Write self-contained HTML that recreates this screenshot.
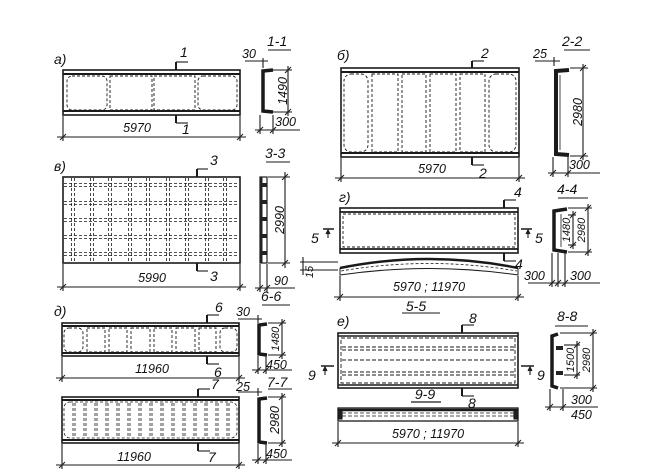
<!DOCTYPE html>
<html><head><meta charset="utf-8"><style>
html,body{margin:0;padding:0;background:#fff}
svg{display:block}
text{font-family:"Liberation Sans",sans-serif;font-style:italic;fill:#111;font-size:12.5px}
.l{font-size:14px}
.s{font-size:11px}
</style></head><body>
<svg width="657" height="475" viewBox="0 0 657 475" xmlns="http://www.w3.org/2000/svg">
<defs>
<g id="tk"><line x1="-3" y1="3" x2="3" y2="-3" stroke="#222" stroke-width="1.1"/></g>
</defs>
<g fill="none" stroke="#1a1a1a" stroke-width="1.1">

<!-- ===== a) ===== -->
<rect x="63" y="70" width="177" height="45" stroke-width="1.6"/>
<line x1="63" y1="74" x2="240" y2="74" stroke-width="2"/>
<line x1="63" y1="111" x2="240" y2="111" stroke-width="2"/>
<g stroke-dasharray="3,2" stroke-width="0.9">
<rect x="67" y="76" width="40" height="34" rx="5"/>
<rect x="110" y="76" width="42" height="34"/>
<rect x="154" y="76" width="41" height="34"/>
<rect x="198" y="76" width="39" height="34" rx="5"/>
</g>
<line x1="176" y1="62" x2="176" y2="70" stroke-width="2"/><line x1="176" y1="62" x2="188" y2="62"/>
<line x1="176" y1="115" x2="176" y2="123" stroke-width="2"/><line x1="176" y1="123" x2="188" y2="123"/>
<line x1="63" y1="116" x2="63" y2="141"/><line x1="240" y1="116" x2="240" y2="141"/>
<line x1="57" y1="137" x2="246" y2="137"/>
<use href="#tk" x="63" y="137"/><use href="#tk" x="240" y="137"/>
<!-- 1-1 -->
<line x1="268" y1="50" x2="291" y2="50"/>
<path d="M273,70 L263,71 L263,111 L273,112" stroke-width="3.5"/>
<line x1="268" y1="70" x2="292" y2="70"/><line x1="268" y1="112" x2="292" y2="112"/>
<line x1="288" y1="66" x2="288" y2="116"/>
<use href="#tk" x="288" y="70"/><use href="#tk" x="288" y="112"/>
<line x1="245" y1="61" x2="268" y2="61"/><line x1="263" y1="58" x2="263" y2="68"/>
<line x1="260" y1="115" x2="260" y2="134"/><line x1="273" y1="115" x2="273" y2="134"/>
<line x1="255" y1="130" x2="300" y2="130"/>
<use href="#tk" x="260" y="130"/><use href="#tk" x="273" y="130"/>

<!-- ===== в) ===== -->
<rect x="63" y="177" width="177" height="86" stroke-width="1.6"/>
<g stroke-dasharray="3,2" stroke-width="0.8">
<path d="M71.5,178V262M74.5,178V262M90.5,178V262M93.5,178V262M108.5,178V262M111.5,178V262M128.5,178V262M131.5,178V262M146.5,178V262M149.5,178V262M166.5,178V262M169.5,178V262M185.5,178V262M188.5,178V262M205.5,178V262M208.5,178V262M223.5,178V262M226.5,178V262"/>
<path d="M64,183.5H239M64,186.5H239M64,201.5H239M64,204.5H239M64,218.5H239M64,221.5H239M64,235.5H239M64,238.5H239M64,252.5H239M64,255.5H239"/>
</g>
<line x1="197" y1="169" x2="197" y2="177" stroke-width="2"/><line x1="197" y1="169" x2="208" y2="169"/>
<line x1="197" y1="263" x2="197" y2="271" stroke-width="2"/><line x1="197" y1="271" x2="208" y2="271"/>
<line x1="63" y1="264" x2="63" y2="291"/><line x1="240" y1="264" x2="240" y2="291"/>
<line x1="57" y1="287" x2="246" y2="287"/>
<use href="#tk" x="63" y="287"/><use href="#tk" x="240" y="287"/>
<!-- 3-3 -->
<line x1="266" y1="162" x2="290" y2="162"/>
<rect x="260" y="177" width="7" height="86" stroke-width="1.2"/>
<g fill="#222" stroke="none">
<rect x="260" y="177" width="2.5" height="86"/>
<rect x="262" y="183" width="5" height="4"/><rect x="262" y="200" width="5" height="4"/><rect x="262" y="217" width="5" height="4"/><rect x="262" y="234" width="5" height="4"/><rect x="262" y="251" width="5" height="4"/>
</g>
<line x1="268" y1="177" x2="290" y2="177"/><line x1="268" y1="263" x2="290" y2="263"/>
<line x1="285" y1="172" x2="285" y2="268"/>
<use href="#tk" x="285" y="177"/><use href="#tk" x="285" y="263"/>
<line x1="260" y1="264" x2="260" y2="292"/><line x1="267" y1="264" x2="267" y2="292"/>
<line x1="255" y1="288" x2="295" y2="288"/>
<use href="#tk" x="260" y="288"/><use href="#tk" x="267" y="288"/>

<!-- ===== б) ===== -->
<rect x="341" y="68" width="178" height="89" stroke-width="1.6"/>
<line x1="341" y1="72" x2="519" y2="72" stroke-width="2"/>
<line x1="341" y1="153" x2="519" y2="153" stroke-width="2"/>
<g stroke-dasharray="3,2" stroke-width="0.9">
<rect x="344" y="74" width="24" height="78" rx="7"/>
<rect x="372" y="74" width="26" height="78"/>
<rect x="402" y="74" width="24" height="78"/>
<rect x="430" y="74" width="26" height="78"/>
<rect x="460" y="74" width="25" height="78"/>
<rect x="489" y="74" width="27" height="78" rx="7"/>
</g>
<line x1="472" y1="61" x2="472" y2="68" stroke-width="2"/><line x1="472" y1="61" x2="484" y2="61"/>
<line x1="472" y1="157" x2="472" y2="165" stroke-width="2"/><line x1="472" y1="165" x2="484" y2="165"/>
<line x1="341" y1="158" x2="341" y2="182"/><line x1="519" y1="158" x2="519" y2="182"/>
<line x1="335" y1="178" x2="525" y2="178"/>
<use href="#tk" x="341" y="178"/><use href="#tk" x="519" y="178"/>
<!-- 2-2 -->
<line x1="564" y1="50" x2="590" y2="50"/>
<path d="M569,70 L556,71 L556,154 L569,155" stroke-width="4"/>
<line x1="560" y1="75" x2="560" y2="150" stroke-width="0.8"/>
<line x1="570" y1="68" x2="588" y2="68"/><line x1="570" y1="156" x2="588" y2="156"/>
<line x1="583" y1="64" x2="583" y2="160"/>
<use href="#tk" x="583" y="68"/><use href="#tk" x="583" y="156"/>
<line x1="535" y1="61" x2="560" y2="61"/><line x1="554" y1="57" x2="554" y2="66"/>
<line x1="553" y1="157" x2="553" y2="177"/><line x1="568" y1="157" x2="568" y2="177"/>
<line x1="548" y1="173" x2="600" y2="173"/>
<use href="#tk" x="553" y="173"/><use href="#tk" x="568" y="173"/>

<!-- ===== г) ===== -->
<rect x="340" y="208" width="178" height="45" stroke-width="1.6"/>
<line x1="340" y1="212" x2="518" y2="212" stroke-width="1.8"/>
<line x1="340" y1="249" x2="518" y2="249" stroke-width="1.8"/>
<rect x="343" y="214" width="172" height="33" stroke-dasharray="3,2" stroke-width="0.9"/>
<line x1="504" y1="200" x2="504" y2="208" stroke-width="2"/><line x1="504" y1="200" x2="516" y2="200"/>
<line x1="504" y1="253" x2="504" y2="261" stroke-width="2"/><line x1="504" y1="261" x2="516" y2="261"/>
<line x1="323" y1="229" x2="334" y2="229" stroke-width="1.5"/><line x1="328" y1="230" x2="328" y2="238"/>
<path d="M326,234 L328,230 L330,234" fill="#222"/>
<line x1="521" y1="229" x2="532" y2="229" stroke-width="1.5"/><line x1="528" y1="230" x2="528" y2="238"/>
<path d="M526,234 L528,230 L530,234" fill="#222"/>
<!-- arch -->
<path d="M340,268 Q429,250 518,268" stroke-width="2.5"/>
<path d="M341,271 Q429,256 517,271" stroke-dasharray="3,2" stroke-width="0.8"/>
<path d="M340,268 L340,275 Q429,262 518,275 L518,268" stroke-width="1"/>
<line x1="300" y1="262" x2="338" y2="262"/><line x1="300" y1="270" x2="338" y2="270"/>
<line x1="303" y1="257" x2="303" y2="275"/>
<line x1="340" y1="276" x2="340" y2="301"/><line x1="518" y1="276" x2="518" y2="301"/>
<line x1="334" y1="297" x2="524" y2="297"/>
<use href="#tk" x="340" y="297"/><use href="#tk" x="518" y="297"/>
<!-- 4-4 -->
<line x1="558" y1="198" x2="588" y2="198"/>
<path d="M567,209 L554,211 L554,250 L567,252" stroke-width="3.5"/>
<path d="M561,214 L561,247" stroke-width="0.8"/>
<line x1="568" y1="208" x2="592" y2="208"/><line x1="568" y1="252" x2="592" y2="252"/>
<line x1="568" y1="215" x2="576" y2="215"/><line x1="568" y1="245" x2="576" y2="245"/>
<line x1="573" y1="211" x2="573" y2="249"/><line x1="588" y1="204" x2="588" y2="256"/>
<use href="#tk" x="573" y="215"/><use href="#tk" x="573" y="245"/><use href="#tk" x="588" y="208"/><use href="#tk" x="588" y="252"/>
<line x1="552" y1="253" x2="552" y2="287"/><line x1="558" y1="253" x2="558" y2="287"/><line x1="565" y1="253" x2="565" y2="287"/>
<line x1="528" y1="283" x2="600" y2="283"/>
<use href="#tk" x="552" y="283"/><use href="#tk" x="558" y="283"/><use href="#tk" x="565" y="283"/>

<!-- ===== д) top ===== -->
<rect x="62" y="323" width="177" height="33" stroke-width="1.6"/>
<line x1="62" y1="326" x2="239" y2="326" stroke-width="2"/>
<line x1="62" y1="353" x2="239" y2="353" stroke-width="2"/>
<g stroke-dasharray="3,2" stroke-width="0.9">
<rect x="64" y="328" width="19" height="24" rx="5"/>
<rect x="87" y="328" width="18" height="24"/>
<rect x="109" y="328" width="18" height="24"/>
<rect x="131" y="328" width="19" height="24"/>
<rect x="154" y="328" width="18" height="24"/>
<rect x="176" y="328" width="19" height="24"/>
<rect x="199" y="328" width="17" height="24"/>
<rect x="220" y="328" width="17" height="24" rx="5"/>
</g>
<line x1="207" y1="315" x2="207" y2="323" stroke-width="2"/><line x1="207" y1="315" x2="219" y2="315"/>
<line x1="207" y1="356" x2="207" y2="364" stroke-width="2"/><line x1="207" y1="364" x2="219" y2="364"/>
<line x1="62" y1="357" x2="62" y2="382"/><line x1="239" y1="357" x2="239" y2="382"/>
<line x1="56" y1="378" x2="245" y2="378"/>
<use href="#tk" x="62" y="378"/><use href="#tk" x="239" y="378"/>
<!-- 6-6 -->
<line x1="262" y1="305" x2="290" y2="305"/>
<path d="M267,324 L259,325 L259,354 L267,355" stroke-width="3.5"/>
<line x1="268" y1="323" x2="286" y2="323"/><line x1="268" y1="355" x2="286" y2="355"/>
<line x1="282" y1="319" x2="282" y2="359"/>
<use href="#tk" x="282" y="323"/><use href="#tk" x="282" y="355"/>
<line x1="238" y1="319" x2="262" y2="319"/><line x1="258" y1="315" x2="258" y2="323"/>
<line x1="258" y1="356" x2="258" y2="374"/><line x1="266" y1="356" x2="266" y2="374"/>
<line x1="252" y1="370" x2="292" y2="370"/>
<use href="#tk" x="258" y="370"/><use href="#tk" x="266" y="370"/>
<line x1="268" y1="389" x2="292" y2="389"/>

<!-- ===== д) bottom ===== -->
<rect x="62" y="397" width="177" height="46" stroke-width="1.6"/>
<line x1="62" y1="400" x2="239" y2="400" stroke-width="2"/>
<line x1="62" y1="440" x2="239" y2="440" stroke-width="2"/>
<g stroke-dasharray="3,2" stroke-width="0.8">
<rect x="64" y="402" width="173" height="36" rx="6"/>
<path d="M73,403V437M75,403V437M84,403V437M86,403V437M95,403V437M97,403V437M106,403V437M108,403V437M117,403V437M119,403V437M128,403V437M130,403V437M139,403V437M141,403V437M150,403V437M152,403V437M161,403V437M163,403V437M172,403V437M174,403V437M183,403V437M185,403V437M194,403V437M196,403V437M205,403V437M207,403V437M216,403V437M218,403V437M227,403V437M229,403V437"/>
</g>
<line x1="198" y1="389" x2="198" y2="397" stroke-width="2"/><line x1="198" y1="389" x2="210" y2="389"/>
<line x1="198" y1="443" x2="198" y2="451" stroke-width="2"/><line x1="198" y1="451" x2="210" y2="451"/>
<line x1="62" y1="444" x2="62" y2="469"/><line x1="239" y1="444" x2="239" y2="469"/>
<line x1="56" y1="465" x2="245" y2="465"/>
<use href="#tk" x="62" y="465"/><use href="#tk" x="239" y="465"/>
<!-- 7-7 -->
<path d="M267,398 L259,399 L259,442 L267,443" stroke-width="3.5"/>
<line x1="268" y1="397" x2="286" y2="397"/><line x1="268" y1="443" x2="286" y2="443"/>
<line x1="282" y1="393" x2="282" y2="447"/>
<use href="#tk" x="282" y="397"/><use href="#tk" x="282" y="443"/>
<line x1="238" y1="392" x2="262" y2="392"/><line x1="258" y1="388" x2="258" y2="396"/>
<line x1="258" y1="444" x2="258" y2="464"/><line x1="266" y1="444" x2="266" y2="464"/>
<line x1="252" y1="460" x2="292" y2="460"/>
<use href="#tk" x="258" y="460"/><use href="#tk" x="266" y="460"/>

<!-- ===== е) ===== -->
<line x1="402" y1="313" x2="440" y2="313"/>
<rect x="338" y="333" width="180" height="55" stroke-width="1.6"/>
<line x1="338" y1="336" x2="518" y2="336" stroke-width="1.5"/>
<line x1="338" y1="385" x2="518" y2="385" stroke-width="1.5"/>
<g stroke-dasharray="4,2" stroke-width="0.9">
<rect x="341" y="338" width="174" height="45"/>
<path d="M342,347H514M342,350H514M342,360H514M342,372H514M342,375H514"/>
</g>
<line x1="462" y1="325" x2="462" y2="333" stroke-width="2"/><line x1="462" y1="325" x2="474" y2="325"/>
<line x1="462" y1="388" x2="462" y2="396" stroke-width="2"/><line x1="462" y1="396" x2="474" y2="396"/>
<line x1="321" y1="366" x2="334" y2="366" stroke-width="1.5"/><line x1="325" y1="367" x2="325" y2="375"/>
<path d="M323,371 L325,367 L327,371" fill="#222"/>
<line x1="521" y1="366" x2="534" y2="366" stroke-width="1.5"/><line x1="530" y1="367" x2="530" y2="375"/>
<path d="M528,371 L530,367 L532,371" fill="#222"/>
<line x1="411" y1="402" x2="441" y2="402" stroke-width="1.3"/>
<!-- 9-9 -->
<rect x="338" y="408" width="180" height="13" stroke-width="1.3"/>
<line x1="338" y1="410" x2="518" y2="410" stroke-width="2.5"/>
<rect x="339" y="411" width="3" height="8" fill="#222"/><rect x="514" y="411" width="3" height="8" fill="#222"/>
<path d="M342,413H514M342,416H514" stroke-dasharray="4,2" stroke-width="0.8"/>
<line x1="338" y1="422" x2="338" y2="447"/><line x1="518" y1="422" x2="518" y2="447"/>
<line x1="332" y1="443" x2="524" y2="443"/>
<use href="#tk" x="338" y="443"/><use href="#tk" x="518" y="443"/>
<!-- 8-8 -->
<line x1="555" y1="326" x2="588" y2="326"/>
<path d="M558,334 L552,336 L552,386 L558,388" stroke-width="3.5"/>
<rect x="556" y="346" width="7" height="4" fill="#222" stroke="none"/>
<rect x="556" y="371" width="7" height="4" fill="#222" stroke="none"/>
<line x1="564" y1="345" x2="580" y2="345"/><line x1="564" y1="375" x2="580" y2="375"/>
<line x1="577" y1="341" x2="577" y2="379"/>
<use href="#tk" x="577" y="345"/><use href="#tk" x="577" y="375"/>
<line x1="560" y1="333" x2="597" y2="333"/><line x1="560" y1="388" x2="597" y2="388"/>
<line x1="593" y1="329" x2="593" y2="392"/>
<use href="#tk" x="593" y="333"/><use href="#tk" x="593" y="388"/>
<line x1="550" y1="389" x2="550" y2="411"/><line x1="563" y1="389" x2="563" y2="411"/>
<line x1="545" y1="407" x2="598" y2="407"/>
<use href="#tk" x="550" y="407"/><use href="#tk" x="563" y="407"/>
</g>

<!-- ===== TEXT ===== -->
<text class="l" x="54" y="64">а)</text>
<text class="l" x="180" y="57">1</text><text class="l" x="182" y="134">1</text>
<text x="137" y="132" text-anchor="middle">5970</text>
<text class="l" x="267" y="46">1-1</text>
<text x="242" y="58">30</text>
<text x="296" y="126" text-anchor="end">300</text>
<text transform="translate(287,91) rotate(-90)" text-anchor="middle">1490</text>

<text class="l" x="54" y="171">в)</text>
<text class="l" x="210" y="165">3</text><text class="l" x="210" y="281">3</text>
<text x="152" y="282" text-anchor="middle">5990</text>
<text class="l" x="265" y="158">3-3</text>
<text x="274" y="285">90</text>
<text transform="translate(284,220) rotate(-90)" text-anchor="middle">2990</text>

<text class="l" x="337" y="60">б)</text>
<text class="l" x="481" y="58">2</text><text class="l" x="479" y="178">2</text>
<text x="432" y="173" text-anchor="middle">5970</text>
<text class="l" x="562" y="46">2-2</text>
<text x="533" y="58">25</text>
<text x="569" y="169">300</text>
<text transform="translate(582,112) rotate(-90)" text-anchor="middle">2980</text>

<text class="l" x="339" y="202">г)</text>
<text class="l" x="514" y="197">4</text><text class="l" x="515" y="269">4</text>
<text class="l" x="311" y="243">5</text><text class="l" x="535" y="243">5</text>
<text transform="translate(313,272) rotate(-90)" text-anchor="middle" class="s">15</text>
<text x="429" y="291" text-anchor="middle">5970 ; 11970</text>
<text class="l" x="557" y="194">4-4</text>
<text x="524" y="280">300</text><text x="570" y="280">300</text>
<text transform="translate(570,230) rotate(-90)" text-anchor="middle" class="s">1480</text>
<text transform="translate(585,230) rotate(-90)" text-anchor="middle" class="s">2980</text>

<text class="l" x="416" y="311" text-anchor="middle">5-5</text>

<text class="l" x="54" y="316">д)</text>
<text class="l" x="215" y="312">6</text><text class="l" x="214" y="377">6</text>
<text x="152" y="373" text-anchor="middle">11960</text>
<text class="l" x="261" y="301">6-6</text>
<text x="236" y="316">30</text>
<text x="266" y="369">450</text>
<text class="l" x="267" y="387">7-7</text>
<text transform="translate(279,339) rotate(-90)" text-anchor="middle" class="s">1480</text>
<text class="l" x="211" y="389">7</text><text class="l" x="208" y="462">7</text>
<text x="134" y="461" text-anchor="middle">11960</text>
<text x="236" y="391">25</text>
<text x="266" y="458">450</text>
<text transform="translate(279,420) rotate(-90)" text-anchor="middle">2980</text>

<text class="l" x="337" y="326">е)</text>
<text class="l" x="469" y="323">8</text><text class="l" x="468" y="408">8</text>
<text class="l" x="308" y="380">9</text><text class="l" x="537" y="380">9</text>
<text class="l" x="425" y="399" text-anchor="middle">9-9</text>
<text x="428" y="438" text-anchor="middle">5970 ; 11970</text>
<text class="l" x="557" y="321">8-8</text>
<text transform="translate(574,360) rotate(-90)" text-anchor="middle" class="s">1500</text>
<text transform="translate(590,360) rotate(-90)" text-anchor="middle" class="s">2980</text>
<text x="571" y="404">300</text>
<text x="571" y="419">450</text>
</svg>
</body></html>
